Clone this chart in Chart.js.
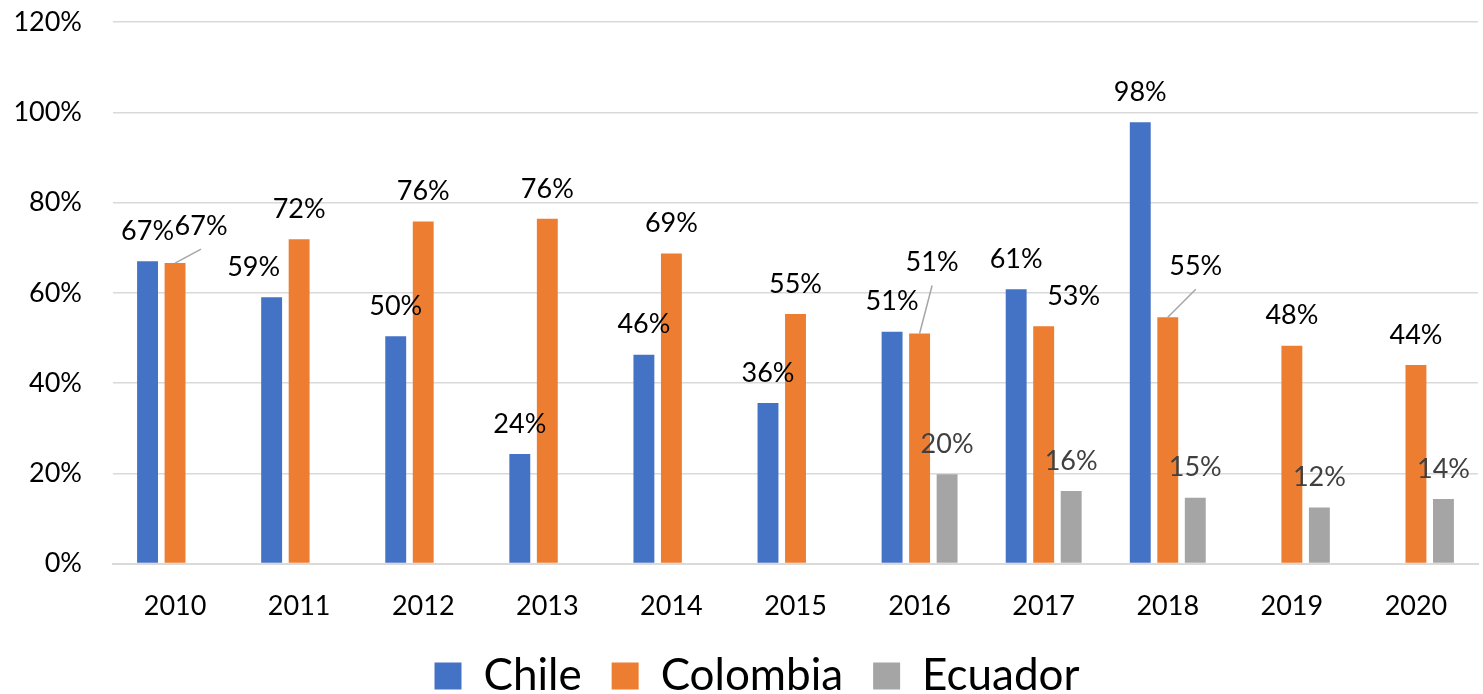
<!DOCTYPE html>
<html>
<head>
<meta charset="utf-8">
<script src="https://cdn.jsdelivr.net/npm/chart.js@4.4.1/dist/chart.umd.min.js"></script>
<style>
  html, body { margin: 0; padding: 0; background: #fff; overflow: hidden; }
  #wrap { position: relative; width: 1483px; height: 708px; }
</style>
</head>
<body>
<div id="wrap"><canvas id="chart"></canvas></div>
<script>
// values (percent)
const years = ['2010', '2011', '2012', '2013', '2014', '2015', '2016', '2017', '2018', '2019', '2020'];
const chile = [67.0, 59.0, 50.4, 24.3, 46.3, 35.6, 51.4, 60.8, 97.8, null, null];
const colombia = [66.6, 71.9, 75.8, 76.4, 68.7, 55.3, 51.0, 52.6, 54.6, 48.3, 44.0];
const ecuador = [null, null, null, null, null, null, 19.8, 16.1, 14.6, 12.4, 14.3];
const yTicks = [0, 20, 40, 60, 80, 100, 120];

const FONT = 'Lato';

// labels moved by hand in the original (dataset index -> point index -> shift)
const labelShift = {
    0: { 1: { dx: -18, dy: 0 } },
    1: {
        0: { dx: 26, dy: -7, leader: true },
        6: { dx: 12.5, dy: -41, leader: true },
        7: { dx: 30, dy: 0 },
        8: { dx: 28, dy: -21, leader: true }
    }
};

const barLabels = {
    id: 'barLabels',
    afterDatasetsDraw(chart) {
        const ctx = chart.ctx;
        ctx.save();
        ctx.font = `27px ${FONT}`;
        ctx.textAlign = 'center';
        ctx.textBaseline = 'middle';
        chart.data.datasets.forEach((ds, di) => {
            const meta = chart.getDatasetMeta(di);
            meta.data.forEach((bar, i) => {
                const v = ds.data[i];
                if (v === null || v === undefined) return;
                const s = (labelShift[di] && labelShift[di][i]) || { dx: 0, dy: 0 };
                const lx = bar.x + s.dx;
                const ly = bar.y - 30 + s.dy;
                if (s.leader) {
                    ctx.strokeStyle = '#a6a6a6';
                    ctx.lineWidth = 1.5;
                    ctx.beginPath();
                    ctx.moveTo(bar.x, bar.y);
                    ctx.lineTo(lx, ly + 23);
                    ctx.stroke();
                }
                ctx.fillStyle = ds.labelColor;
                ctx.fillText(Math.round(v) + '%', lx, ly);
            });
        });
        ctx.restore();
    }
};

// nudge the legend row to where the original sits
const legendShift = {
    id: 'legendShift',
    afterLayout(chart) {
        if (chart.legend) {
            chart.legend.left += 18;
            chart.legend.right += 18;
        }
    }
};

new Chart(document.getElementById('chart'), {
    type: 'bar',
    data: {
        labels: years,
        datasets: [
            { label: 'Chile', data: chile, backgroundColor: '#4472C4', labelColor: '#000000' },
            { label: 'Colombia', data: colombia, backgroundColor: '#ED7D31', labelColor: '#000000' },
            { label: 'Ecuador', data: ecuador, backgroundColor: '#A5A5A5', labelColor: '#404040' }
        ]
    },
    options: {
        responsive: true,
        maintainAspectRatio: false,
        animation: false,
        datasets: {
            bar: { categoryPercentage: 0.665, barPercentage: 0.76 }
        },
        layout: { padding: { top: 0, right: 5, left: 0, bottom: 0 } },
        scales: {
            x: {
                grid: { display: false },
                border: { display: true, color: '#d9d9d9', width: 2 },
                ticks: { color: '#000', padding: 19, font: { family: FONT, size: 27 } },
                afterFit: s => { s.height = 60.5; }
            },
            y: {
                min: 0,
                max: 120,
                afterBuildTicks: s => { s.ticks = yTicks.map(v => ({ value: v })); },
                ticks: {
                    color: '#000',
                    padding: 6,
                    font: { family: FONT, size: 27 },
                    callback: v => v + '%'
                },
                grid: { color: '#d9d9d9', lineWidth: 1.5, drawTicks: true, tickLength: 25, tickColor: 'rgba(0,0,0,0)' },
                border: { display: false },
                afterFit: s => { s.width = 113; }
            }
        },
        plugins: {
            legend: {
                position: 'bottom',
                labels: {
                    boxWidth: 27,
                    boxHeight: 27,
                    padding: 30,
                    color: '#000',
                    font: { family: FONT, size: 44 }
                }
            },
            tooltip: { enabled: false }
        }
    },
    plugins: [barLabels, legendShift]
});
</script>
</body>
</html>
